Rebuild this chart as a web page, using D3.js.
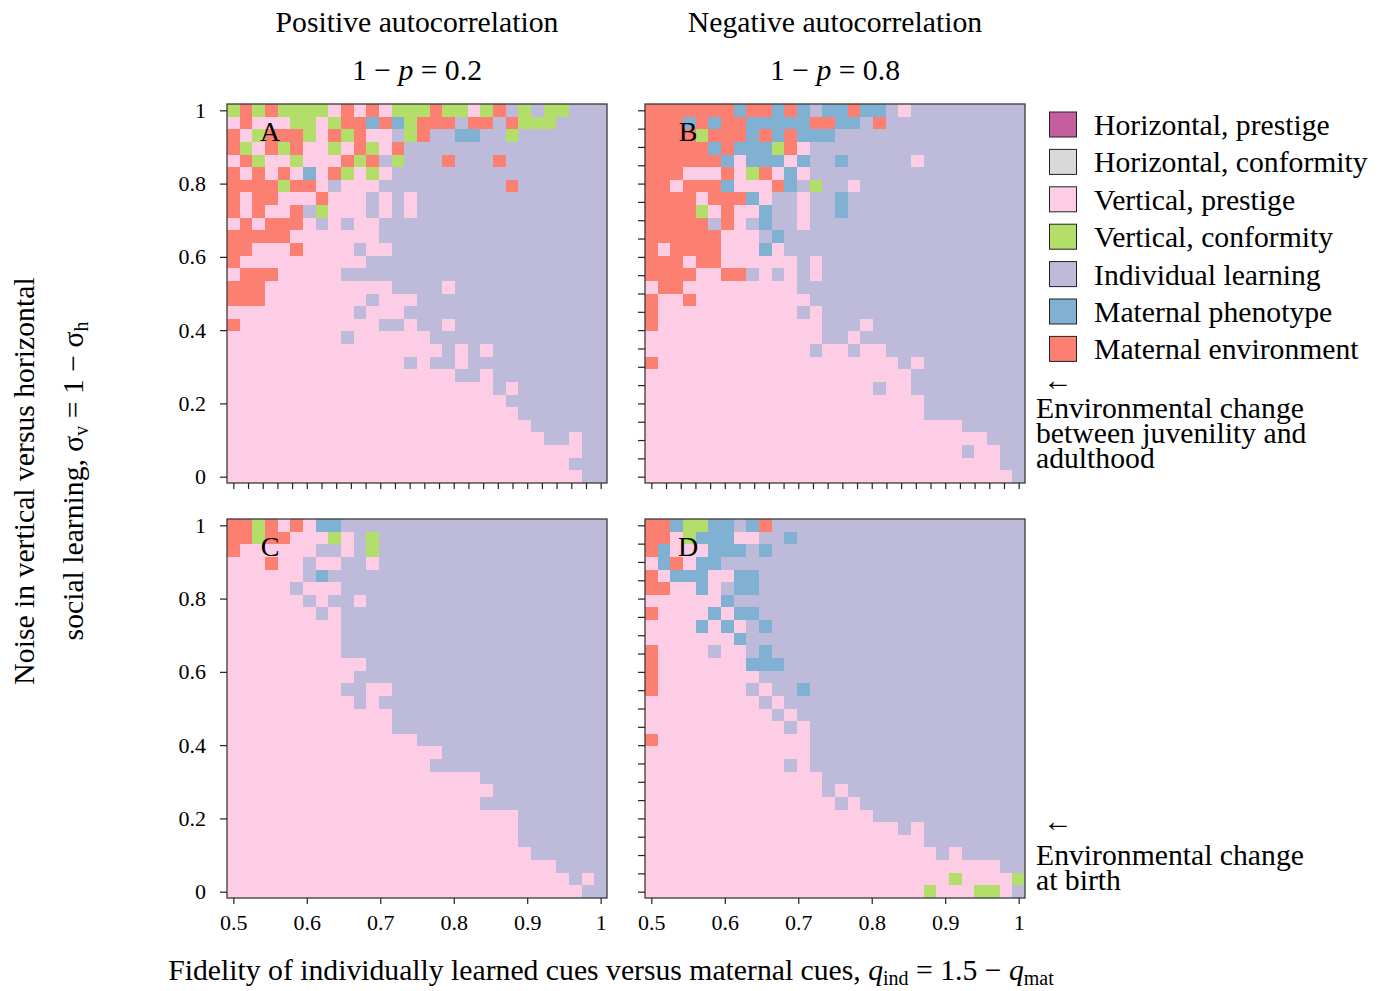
<!DOCTYPE html>
<html>
<head>
<meta charset="utf-8">
<script src="https://cdn.jsdelivr.net/npm/d3@7"></script>
<style>
  body { margin: 0; background: #fff; }
  svg { display: block; }
  text { font-family: "Liberation Serif", "Times New Roman", serif; fill: #000; }
</style>
</head>
<body>
<svg id="chart" width="1390" height="991"></svg>
<script>
// Learning strategy codes, labels and fills
const strategyCodes  = ["H", "K", "P", "C", "I", "M", "E"];
const strategyLabels = ["Horizontal, prestige", "Horizontal, conformity", "Vertical, prestige",
                        "Vertical, conformity", "Individual learning", "Maternal phenotype",
                        "Maternal environment"];
const strategyColors = ["#c45e9f", "#d9d9d9", "#fccde5", "#b3de69", "#bebada", "#80b1d3", "#fb8072"];

// Parameter grid: fidelity q_ind (columns) and vertical noise sigma_v (rows, top to bottom)
const qInd = [0.5, 0.5172, 0.5345, 0.5517, 0.569, 0.5862, 0.6034, 0.6207, 0.6379, 0.6552,
              0.6724, 0.6897, 0.7069, 0.7241, 0.7414, 0.7586, 0.7759, 0.7931, 0.8103, 0.8276,
              0.8448, 0.8621, 0.8793, 0.8966, 0.9138, 0.931, 0.9483, 0.9655, 0.9828, 1];
const sigmaV = [1, 0.9655, 0.931, 0.8966, 0.8621, 0.8276, 0.7931, 0.7586, 0.7241, 0.6897,
                0.6552, 0.6207, 0.5862, 0.5517, 0.5172, 0.4828, 0.4483, 0.4138, 0.3793, 0.3448,
                0.3103, 0.2759, 0.2414, 0.2069, 0.1724, 0.1379, 0.1034, 0.069, 0.0345, 0];

// Tick values
const xMinorTicks = [0.5, 0.52, 0.54, 0.56, 0.58, 0.6, 0.62, 0.64, 0.66, 0.68, 0.7, 0.72, 0.74,
                     0.76, 0.78, 0.8, 0.82, 0.84, 0.86, 0.88, 0.9, 0.92, 0.94, 0.96, 0.98, 1];
const xLabelTicks = [0.5, 0.6, 0.7, 0.8, 0.9, 1];
const yMinorTicks = [0, 0.05, 0.1, 0.15, 0.2, 0.25, 0.3, 0.35, 0.4, 0.45, 0.5, 0.55, 0.6, 0.65,
                     0.7, 0.75, 0.8, 0.85, 0.9, 0.95, 1];
const yLabelTicks = [0, 0.2, 0.4, 0.6, 0.8, 1];

// Winning strategy per cell, run-length coded per row (letter + repeat count, default 1)
// A: positive autocorrelation, change between juvenility and adulthood
const panelA = [
  "CECEC4PEPEPC3EC2PCEICIC2I3", "PEP3C2PCE2MEMCE3IE2IEC3I4", "EPCE3CPECEP2ICEI2M2I2CI7",
  "ECPECEP2CPECPEI16", "PECP2CP3ECEICI3EI3EI8", "EPEPEPMPECPCPI17", "E4CE2PIP3I10EI7",
  "EPE2P3EP3IPIPI15", "EPEP2EICP3IPIPI15", "PEPE3PIPIP2I18", "E5P7I18", "E2P3EP4IP2I17",
  "EP10I19", "PE3P5I21", "E3P10I4PI12", "E3P8IP3I15", "P10IP3I16", "EP11I2PI2PI12",
  "P9IP6I14", "P17IPIPI9", "P14IPI2PI11", "P18I2PI9", "P21IPI7", "P22I8", "P23I7",
  "P24I6", "P25I2PI2", "P28I2", "P27I3", "P28I2"
];
// B: negative autocorrelation, change between juvenility and adulthood
const panelB = [
  "E7ME2MEMIM2EM2IPI9", "E3MEME2M5E2M2IEI11", "E4CE3MEMEM3I15", "E5MEM3CEPI17",
  "E6MPM3PMI2MI5PI8", "E3P3EPCEPMPI17", "E2PE3MP3EMICI2PI13", "E4PE3MPI2PI2MI14",
  "E4CPEP2MI2PI2MI14", "E5IEPIMI2PI17", "E6P3IMI19", "EPE4P3MPI19", "E3PE2P6IPI16",
  "E4P2E2IPIPIPI16", "PE2P9I18", "EP2EP9I17", "EP11IPI16", "EP13I3PI12", "P14I2PI13",
  "P13IP2IP2I11", "EP19IPI8", "P21I9", "P18IP2I9", "P22I8", "P22I8", "P25I5", "P27I3",
  "P25IP2I2", "P28I2", "P29I"
];
// C: positive autocorrelation, change at birth
const panelC = [
  "E2CEPEPM2I21", "E2CE2P3CPICI18", "EP6I2PICI18", "P3EP2IP2I2PI18", "P6IMI22", "P5IP3I21",
  "P6IPI2PI19", "P7IPI21", "P9I21", "P9I21", "P9I21", "P11I19", "P10I20", "P9I2P2I17",
  "P10IPI18", "P13I17", "P13I17", "P15I15", "P17I13", "P16I14", "P20I10", "P21I9", "P20I10",
  "P23I7", "P23I7", "P23I7", "P24I6", "P26I4", "P27IPI", "P28I2"
];
// D: negative autocorrelation, change at birth
const panelD = [
  "E2MC2M2IMEI20", "E2PCM3P2I2MI18", "EMP3M3IMI20", "PMEPM2I24", "EPM3P2M2I21",
  "E2P2MPIM2I21", "P6MI23", "EP4MPM2I21", "P4MPMPIMI20", "P7MI22", "EP4IP2IMI20",
  "EP7M3I19", "EP8I21", "EP7IPI2MI17", "P9IPI19", "P10IPI18", "P11IPI17", "EP12I17",
  "P13I17", "P11IPI17", "P14I16", "P14IPI14", "P15IPI13", "P18I12", "P20IPI8", "P22I8",
  "P23IPI5", "P28I2", "P24CP4C", "P22CP3C2PI"
];

function decodeRow(s) {
  const out = [];
  for (const m of s.matchAll(/([A-Z])(\d*)/g)) {
    const n = m[2] ? +m[2] : 1;
    for (let i = 0; i < n; i++) out.push(m[1]);
  }
  return out;
}

const color = d3.scaleOrdinal().domain(strategyCodes).range(strategyColors);
const svg = d3.select("#chart");
const bigFont = 29.7;

const size = 380;
const panels = [
  { id: "A", rows: panelA, x0: 227, y0: 104, xLabels: false, yLabels: true },
  { id: "B", rows: panelB, x0: 645, y0: 104, xLabels: false, yLabels: false },
  { id: "C", rows: panelC, x0: 227, y0: 519, xLabels: true,  yLabels: true },
  { id: "D", rows: panelD, x0: 645, y0: 519, xLabels: true,  yLabels: false }
];

panels.forEach(p => {
  const xBand = d3.scaleBand().domain(qInd).range([p.x0, p.x0 + size]);
  const yBand = d3.scaleBand().domain(sigmaV).range([p.y0, p.y0 + size - 1]);
  const bw = xBand.bandwidth(), bh = yBand.bandwidth();
  const x = d3.scaleLinear().domain([0.5, 1]).range([xBand(0.5) + bw / 2, xBand(1) + bw / 2]);
  const y = d3.scaleLinear().domain([0, 1]).range([yBand(0) + bh / 2, yBand(1) + bh / 2]);

  const cells = [];
  p.rows.forEach((row, r) => {
    decodeRow(row).forEach((code, c) => cells.push({ q: qInd[c], s: sigmaV[r], code }));
  });

  const g = svg.append("g");
  g.selectAll("rect.cell").data(cells).join("rect")
    .attr("class", "cell")
    .attr("x", d => xBand(d.q))
    .attr("y", d => yBand(d.s))
    .attr("width", bw)
    .attr("height", bh)
    .attr("fill", d => color(d.code))
    .attr("shape-rendering", "crispEdges");

  g.append("rect")
    .attr("x", p.x0).attr("y", p.y0)
    .attr("width", size).attr("height", size - 1)
    .attr("fill", "none").attr("stroke", "#3a3a3a").attr("stroke-width", 1.3);

  // bottom axis
  const xb = g.append("g").attr("transform", `translate(0,${p.y0 + size - 1})`)
    .call(d3.axisBottom(x).tickValues(xMinorTicks).tickSize(6).tickFormat(""));
  if (p.xLabels) {
    xb.call(d3.axisBottom(x).tickValues(xLabelTicks).tickSize(6).tickPadding(10)
      .tickFormat(d => String(d)));
  }
  xb.selectAll(".domain").remove();
  xb.selectAll("line").attr("stroke", "#222").attr("stroke-width", 1.2);
  xb.selectAll("text").attr("font-size", 22).attr("font-family", "Liberation Serif");

  // left axis
  const yl = g.append("g").attr("transform", `translate(${p.x0},0)`)
    .call(d3.axisLeft(y).tickValues(yMinorTicks).tickSize(7).tickFormat(""));
  if (p.yLabels) {
    yl.call(d3.axisLeft(y).tickValues(yLabelTicks).tickSize(7).tickPadding(14)
      .tickFormat(d => String(d)));
  }
  yl.selectAll(".domain").remove();
  yl.selectAll("line").attr("stroke", "#222").attr("stroke-width", 1.2);
  yl.selectAll("text").attr("font-size", 22).attr("font-family", "Liberation Serif");

  g.append("text")
    .attr("x", p.x0 + 43).attr("y", p.y0 + 37)
    .attr("text-anchor", "middle").attr("font-size", 28)
    .text(p.id);
});

// column headers
const headers = [
  { cx: 417, title: "Positive autocorrelation", value: "0.2" },
  { cx: 835, title: "Negative autocorrelation", value: "0.8" }
];
headers.forEach(h => {
  svg.append("text").attr("x", h.cx).attr("y", 32).attr("text-anchor", "middle")
    .attr("font-size", bigFont).text(h.title);
  const t = svg.append("text").attr("x", h.cx).attr("y", 80).attr("text-anchor", "middle")
    .attr("font-size", bigFont);
  t.append("tspan").text("1 \u2212 ");
  t.append("tspan").attr("font-style", "italic").text("p");
  t.append("tspan").text(" = " + h.value);
});

// legend
const legend = svg.append("g");
strategyLabels.forEach((label, i) => {
  const top = 112 + i * 37.4;
  legend.append("rect").attr("x", 1049.5).attr("y", top).attr("width", 27).attr("height", 25)
    .attr("fill", strategyColors[i]).attr("stroke", "#222").attr("stroke-width", 1);
  legend.append("text").attr("x", 1094).attr("y", top + 23).attr("font-size", bigFont).text(label);
});

// row annotations
const notes = [
  { arrowY: 390, lines: ["Environmental change", "between juvenility and", "adulthood"], y: 418 },
  { arrowY: 831, lines: ["Environmental change", "at birth"], y: 865 }
];
notes.forEach(n => {
  svg.append("text").attr("x", 1043).attr("y", n.arrowY).attr("font-size", bigFont).text("\u2190");
  n.lines.forEach((l, i) => {
    svg.append("text").attr("x", 1036).attr("y", n.y + i * 25).attr("font-size", bigFont).text(l);
  });
});

// x axis title
const xt = svg.append("text").attr("x", 611).attr("y", 980).attr("text-anchor", "middle")
  .attr("font-size", bigFont);
xt.append("tspan").text("Fidelity of individually learned cues versus maternal cues, ");
xt.append("tspan").attr("font-style", "italic").text("q");
xt.append("tspan").attr("font-size", 20).attr("dy", 5).text("ind");
xt.append("tspan").attr("dy", -5).text(" = 1.5 \u2212 ");
xt.append("tspan").attr("font-style", "italic").text("q");
xt.append("tspan").attr("font-size", 20).attr("dy", 5).text("mat");

// y axis title (two lines)
svg.append("text").attr("transform", "translate(34,481) rotate(-90)")
  .attr("text-anchor", "middle").attr("font-size", bigFont)
  .text("Noise in vertical versus horizontal");
const yt = svg.append("text").attr("transform", "translate(83,481) rotate(-90)")
  .attr("text-anchor", "middle").attr("font-size", bigFont);
yt.append("tspan").text("social learning, \u03c3");
yt.append("tspan").attr("font-size", 20).attr("dy", 5).text("v");
yt.append("tspan").attr("dy", -5).text(" = 1 \u2212 \u03c3");
yt.append("tspan").attr("font-size", 20).attr("dy", 5).text("h");
</script>
</body>
</html>
